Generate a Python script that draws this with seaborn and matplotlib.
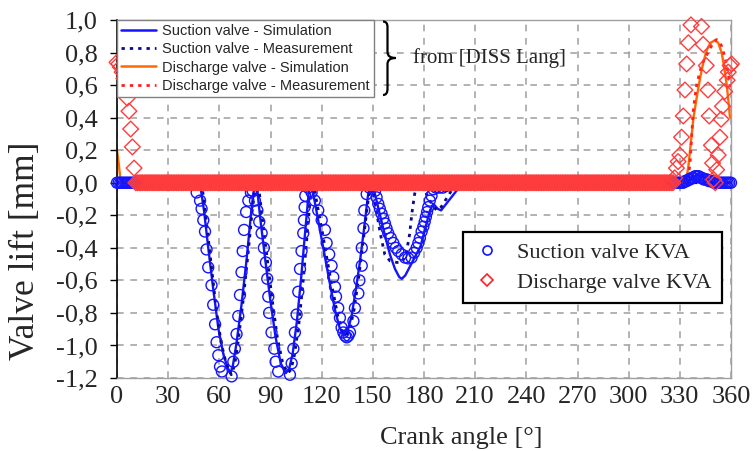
import numpy as np
import matplotlib
matplotlib.use("Agg")
import matplotlib.pyplot as plt
import seaborn as sns
from matplotlib.lines import Line2D
from matplotlib.path import Path
from matplotlib.patches import PathPatch
from matplotlib.font_manager import FontProperties

# ---------------- data ----------------
x_ticks = [0, 30, 60, 90, 120, 150, 180, 210, 240, 270, 300, 330, 360]
y_ticks = [-1.2, -1.0, -0.8, -0.6, -0.4, -0.2, 0.0, 0.2, 0.4, 0.6, 0.8, 1.0]
y_tick_labels = ["-1,2", "-1,0", "-0,8", "-0,6", "-0,4", "-0,2", "0,0", "0,2", "0,4", "0,6", "0,8", "1,0"]

# Suction valve - Simulation (solid blue)
suction_sim_angle = [0, 47, 49, 51, 53.5, 56.5, 59.5, 62.5, 65, 66.5, 68, 70, 73, 76, 78.5, 80, 81.5,
                     82, 84, 87, 90, 93, 96, 99, 101, 103, 105.5, 108, 110.5, 112.5, 113.5,
                     114, 116, 119, 122, 125, 128, 130.5, 133, 135, 137.5, 140, 142.5, 145, 147, 148.5,
                     149, 151, 154, 157, 160, 163, 165.5, 167, 169, 172, 175, 178, 181, 183.5, 185.5, 188,
                     190, 193, 196, 199, 202, 205,
                     334, 337, 340, 343, 346, 349, 360]
suction_sim_lift = [0, 0, -0.03, -0.17, -0.40, -0.66, -0.90, -1.06, -1.14, -1.17, -1.12, -0.99, -0.75, -0.47, -0.20, -0.06, 0,
                    -0.02, -0.22, -0.48, -0.73, -0.95, -1.11, -1.17, -1.14, -1.05, -0.85, -0.58, -0.28, -0.05, 0,
                    -0.02, -0.12, -0.29, -0.46, -0.63, -0.79, -0.89, -0.94, -0.92, -0.82, -0.66, -0.48, -0.27, -0.09, 0,
                    -0.02, -0.06, -0.19, -0.32, -0.44, -0.53, -0.58, -0.59, -0.57, -0.51, -0.45, -0.39, -0.27, -0.17, -0.13, -0.16,
                    -0.17, -0.13, -0.09, -0.05, -0.02, 0,
                    0, 0.03, 0.05, 0.04, 0.02, 0, 0]

# Suction valve - Measurement (dotted navy)
suction_meas_angle = [0, 48, 50, 52, 55, 58, 61, 64, 67, 69, 71, 74, 77, 79.5, 81, 82.5,
                      83, 85, 88, 91, 94, 97, 100, 102, 104, 106.5, 109, 111, 113, 114, 115,
                      115.5, 117.5, 120.5, 123.5, 126.5, 129.5, 132, 134.5, 136.5, 139, 141.5, 144, 146.5, 148, 149,
                      150.5, 152.5, 154.5, 157, 160, 164, 167, 169.5, 171.5, 173, 174.5, 176, 179, 182, 185, 187.5,
                      190, 193, 196, 199, 201, 360]
suction_meas_lift = [0, 0, -0.03, -0.20, -0.48, -0.76, -0.98, -1.11, -1.18, -1.12, -0.98, -0.72, -0.42, -0.15, -0.04, 0,
                     -0.02, -0.20, -0.46, -0.72, -0.95, -1.10, -1.17, -1.15, -1.06, -0.88, -0.62, -0.38, -0.13, -0.03, 0,
                     -0.03, -0.14, -0.31, -0.49, -0.66, -0.82, -0.91, -0.94, -0.90, -0.78, -0.60, -0.39, -0.17, -0.05, 0,
                     -0.08, -0.20, -0.32, -0.44, -0.48, -0.49, -0.49, -0.44, -0.32, -0.18, -0.07, -0.01, -0.02, -0.08, -0.14, -0.17,
                     -0.15, -0.10, -0.05, -0.01, 0, 0]

# Discharge valve - Simulation (solid orange)
discharge_sim_angle = [0, 1, 2, 2.5, 333.5, 335, 336.5, 338, 340, 342, 344, 346, 348, 350.5, 352.5,
                       354.5, 356, 357.5, 358.5, 359.4]
discharge_sim_lift = [0.20, 0.12, 0.02, 0, 0, 0.10, 0.25, 0.40, 0.53, 0.65, 0.75, 0.82, 0.86, 0.875, 0.86,
                      0.80, 0.71, 0.60, 0.50, 0.40]

# Discharge valve - Measurement (dotted red)
discharge_meas_angle = [0, 334.5, 336, 337, 338, 340, 343, 346.5, 349.5, 351.5, 353, 354.5, 356.5, 358.4, 359.5]
discharge_meas_lift = [0, 0, 0.12, 0.30, 0.46, 0.61, 0.73, 0.80, 0.86, 0.88, 0.87, 0.84, 0.77, 0.67, 0.58]

# Suction valve KVA (hollow blue circles): closed-valve samples are 0
suction_kva_closed_angle = list(range(0, 46)) + list(range(197, 326))
suction_kva_dip_angle = [46.7, 48.7, 49.6, 50.6, 51.6, 52.5, 53.5, 55.4, 56.4, 57.5, 58.4, 59.4, 60.4, 61.5, 67.2,
                         68.2, 69.1, 70.1, 71.1, 72.1, 73.0, 73.7, 74.5, 75.7, 77.0, 78.5,
                         79.5, 80.9, 82.3, 83.4, 84.8, 86.1, 87.3, 88.1, 88.7, 89.2, 90.6, 92.2, 93.0, 94.5, 101.4,
                         102.4, 103.4, 104.3, 105.3, 106.3, 107.3, 108.2, 109.2, 109.6, 110.0, 110.4, 112.0,
                         114.1, 116.0, 118.0, 120.0, 121.9, 122.9, 124.4, 125.8, 126.8, 127.8, 128.4, 129.7, 130.7,
                         131.7, 132.7, 133.7, 134.7, 135.7, 136.6, 138.6, 139.5, 141.5, 142.1, 143.5, 143.5, 144.5,
                         145.0, 146.4, 148.0, 149.5,
                         151.3, 152.2, 153.2, 154.1, 155.1, 156.1, 157.1, 158.0, 159.0, 160.5, 162.0, 163.5, 164.9,
                         166.9, 168.9, 170.8, 172.7, 174.2, 175.7, 176.7, 177.6, 178.6, 179.6, 180.4, 181.1, 181.8,
                         182.5, 183.4, 184.4, 185.5, 187.0, 189.0, 191.0, 193.0, 195.0]
suction_kva_dip_lift = [-0.06, -0.11, -0.16, -0.23, -0.30, -0.41, -0.52, -0.63, -0.75, -0.87, -0.98, -1.06, -1.13, -1.16, -1.19,
                        -1.10, -1.02, -0.93, -0.82, -0.69, -0.55, -0.42, -0.29, -0.18, -0.11, -0.06,
                        -0.05, -0.11, -0.17, -0.24, -0.31, -0.40, -0.49, -0.59, -0.70, -0.80, -0.92, -1.02, -1.10, -1.16, -1.18,
                        -1.11, -1.02, -0.92, -0.81, -0.67, -0.53, -0.42, -0.31, -0.23, -0.15, -0.08, -0.03,
                        -0.06, -0.11, -0.17, -0.23, -0.29, -0.37, -0.44, -0.51, -0.58, -0.64, -0.70, -0.77, -0.83,
                        -0.89, -0.92, -0.94, -0.95, -0.94, -0.92, -0.85, -0.77, -0.68, -0.60, -0.51, -0.40, -0.28,
                        -0.17, -0.07, -0.03, -0.02,
                        -0.05, -0.09, -0.13, -0.16, -0.19, -0.22, -0.25, -0.28, -0.31, -0.34, -0.37, -0.40, -0.42,
                        -0.44, -0.46, -0.465, -0.46, -0.43, -0.40, -0.37, -0.34, -0.30, -0.27, -0.24, -0.21, -0.18,
                        -0.15, -0.11, -0.08, -0.04, -0.03, -0.03, -0.03, -0.02, -0.01]
suction_kva_end_angle = list(range(326, 361))
suction_kva_end_lift = [0, 0, 0, 0, 0, 0, 0,
                        0.01, 0.01, 0.02, 0.02, 0.03, 0.03, 0.04, 0.04, 0.04, 0.03, 0.03, 0.02, 0.02, 0.02, 0.01, 0.01, 0.01,
                        0, 0, 0, 0, 0, 0, 0, 0, 0, 0, 0]

# Discharge valve KVA (hollow red diamonds)
discharge_kva_start_angle = [0, 1, 2, 3, 4, 5, 6, 7, 8, 9, 10]
discharge_kva_start_lift = [0.74, 0.73, 0.71, 0.68, 0.64, 0.60, 0.52, 0.44, 0.33, 0.22, 0.09]
discharge_kva_closed_angle = list(range(11, 327))
discharge_kva_end_angle = [327, 328, 329, 330, 331, 332, 333, 334, 335, 336.5, 342.7, 343.7, 345.5, 346.5, 347.2,
                           348.5, 349.2, 349.8, 350.8, 351.6, 352.5, 353.5, 354.2, 355.0, 356.3, 357.8, 358.4,
                           359.5, 360.3]
discharge_kva_end_lift = [0.03, 0.09, 0.13, 0.17, 0.28, 0.41, 0.57, 0.73, 0.86, 0.97, 0.96, 0.85, 0.72, 0.57, 0.41,
                          0.23, 0.12, 0.02, 0.0, 0.08, 0.17, 0.28, 0.39, 0.47, 0.56, 0.63, 0.68,
                          0.72, 0.73]

# ---------------- styling ----------------
sns.set_style("white")
plt.rcParams['font.family'] = ['Liberation Serif', 'DejaVu Serif']

BLUE = "#1414FF"
NAVY = "#0A0A8C"
ORANGE = "#FF6A00"
RED = "#FF2020"
DIAM = "#FF3C3C"

W, H = 756, 451
fig = plt.figure(figsize=(W / 100, H / 100), dpi=100)
ax = fig.add_axes([117 / W, 1 - 378 / H, 614 / W, 358 / H])

# lines
sns.lineplot(x=suction_sim_angle, y=suction_sim_lift, ax=ax, color=BLUE, lw=1.7,
             estimator=None, sort=False, legend=False, zorder=2)
sns.lineplot(x=suction_meas_angle, y=suction_meas_lift, ax=ax, color=NAVY, lw=2.0,
             linestyle=(0, (1.2, 1.8)), estimator=None, sort=False, legend=False, zorder=2)
sns.lineplot(x=discharge_sim_angle, y=discharge_sim_lift, ax=ax, color=ORANGE, lw=1.7,
             estimator=None, sort=False, legend=False, zorder=2)
sns.lineplot(x=discharge_meas_angle, y=discharge_meas_lift, ax=ax, color=RED, lw=2.0,
             linestyle=(0, (1.2, 1.8)), estimator=None, sort=False, legend=False, zorder=2)

# KVA markers
s_ang = suction_kva_closed_angle + suction_kva_dip_angle + suction_kva_end_angle
s_val = [0.0] * len(suction_kva_closed_angle) + suction_kva_dip_lift + suction_kva_end_lift
sns.scatterplot(x=s_ang, y=s_val, ax=ax, marker='o', s=62, color=BLUE,
                facecolor='none', edgecolor=BLUE, linewidth=1.0, legend=False, zorder=3)
d_ang = discharge_kva_start_angle + discharge_kva_closed_angle + discharge_kva_end_angle
d_val = discharge_kva_start_lift + [0.0] * len(discharge_kva_closed_angle) + discharge_kva_end_lift
sns.scatterplot(x=d_ang, y=d_val, ax=ax, marker='D', s=64, color=DIAM,
                facecolor='none', edgecolor=DIAM, linewidth=1.0, legend=False, zorder=4)
for coll in ax.collections:
    coll.set_clip_on(False)

# axes
ax.set_xlim(0, 360)
ax.set_ylim(-1.2, 1.0)
ax.set_xticks(x_ticks)
ax.set_xticklabels([str(t) for t in x_ticks])
ax.set_yticks(y_ticks)
ax.set_yticklabels(y_tick_labels)
ax.tick_params(axis='x', length=0, pad=6, labelsize=19)
ax.tick_params(axis='y', length=5, width=1, color='black', pad=9, labelsize=19, left=True)
ax.grid(True, color="#A6A6A6", linestyle=(0, (4, 4)), linewidth=1.2)
ax.set_axisbelow(True)
for side in ['top', 'right', 'bottom']:
    ax.spines[side].set_color("#A0A0A0")
    ax.spines[side].set_linewidth(1.0)
ax.spines['left'].set_color('black')
ax.spines['left'].set_linewidth(1.2)

ax.set_xlabel("Crank angle [°]", fontsize=19, va='center')
ax.xaxis.set_label_coords((461 - 117) / 614, (378 - 438) / 358)
ax.set_ylabel("Valve lift [mm]", fontsize=25.5, va='center')
ax.yaxis.set_label_coords((26 - 117) / 614, (378 - 251) / 358)

# legend 1 (lines)
h1 = [Line2D([], [], color=BLUE, lw=1.8),
      Line2D([], [], color=NAVY, lw=2.0, linestyle=(0, (1.2, 1.8))),
      Line2D([], [], color=ORANGE, lw=1.8),
      Line2D([], [], color=RED, lw=2.0, linestyle=(0, (1.2, 1.8)))]
l1 = ["Suction valve - Simulation", "Suction valve - Measurement",
      "Discharge valve - Simulation", "Discharge valve - Measurement"]
leg1 = ax.legend(h1, l1, loc='upper left', bbox_to_anchor=(0.0, 1.0), borderaxespad=0,
                 prop=FontProperties(family='Liberation Sans', size=10.5), frameon=True,
                 fancybox=False, edgecolor='#808080', framealpha=1, handlelength=2.4,
                 labelspacing=0.28, borderpad=0.3, handletextpad=0.4)
leg1.get_frame().set_linewidth(1.0)
leg1.set_zorder(10)
ax.add_artist(leg1)

# legend 2 (markers)
h2 = [Line2D([], [], ls='none', marker='o', mfc='none', mec=BLUE, mew=1.2, ms=6.5),
      Line2D([], [], ls='none', marker='D', mfc='none', mec=RED, mew=1.2, ms=6)]
l2 = ["Suction valve KVA", "Discharge valve KVA"]
leg2 = ax.legend(h2, l2, loc='upper left', bbox_to_anchor=((463 - 117) / 614, (378 - 232) / 358),
                 borderaxespad=0, prop=FontProperties(family='Liberation Serif', size=16),
                 frameon=True, fancybox=False, edgecolor='black', framealpha=1,
                 handlelength=1.3, labelspacing=0.45, borderpad=0.45, handletextpad=0.7)
leg2.get_frame().set_linewidth(1.6)
leg2.set_zorder(10)

# brace and annotation
def fx(px):
    return px / W

def fy(py):
    return 1 - py / H

verts = [(383, 21.5), (387.5, 21.5), (387.5, 27), (387.5, 52), (387.5, 58), (395.5, 58),
         (387.5, 58), (387.5, 64), (387.5, 89), (387.5, 95), (383, 95)]
codes = [Path.MOVETO, Path.CURVE3, Path.CURVE3, Path.LINETO, Path.CURVE3, Path.CURVE3,
         Path.CURVE3, Path.CURVE3, Path.LINETO, Path.CURVE3, Path.CURVE3]
brace = Path([(fx(a), fy(b)) for a, b in verts], codes)
fig.add_artist(PathPatch(brace, transform=fig.transFigure, fc='none', ec='black', lw=1.6))
fig.text(fx(413), fy(58), "from [DISS Lang]", fontsize=15, ha='left', va='center',
         family=['Liberation Serif', 'DejaVu Serif'])

fig.savefig("out.png", dpi=100)
